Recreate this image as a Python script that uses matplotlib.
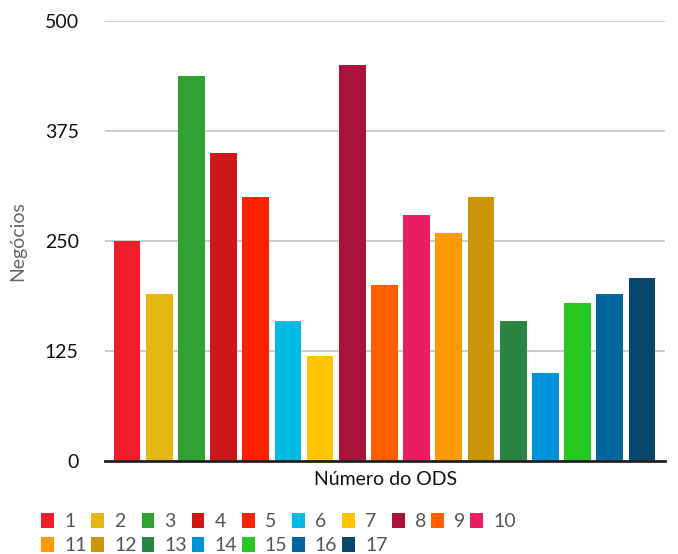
import matplotlib
matplotlib.use("Agg")
import matplotlib.pyplot as plt
from matplotlib.patches import Patch

plt.rcParams['font.family'] = ['Lato', 'DejaVu Sans']

ods = [str(i) for i in range(1, 18)]
negocios = [250, 190, 438, 350, 300, 160, 120, 450, 200, 280, 260, 300, 160, 100, 180, 190, 208]
colors = ['#F21D2B', '#E6B711', '#2EA333', '#CE1719', '#FF2000', '#00BCE3', '#FFC300',
          '#A8123B', '#FF5F00', '#EA1D63', '#FF9B00', '#CC9606', '#2A8542', '#0092DA',
          '#26C81F', '#00669D', '#08476C']
yticks = [0, 125, 250, 375, 500]

fig = plt.figure(figsize=(6.78, 5.54), dpi=100)
ax = fig.add_axes([0.155, 0.167, 0.826, 0.7946])

x = list(range(len(ods)))
bars = ax.bar(x, negocios, width=0.83, color=colors, zorder=3)

ax.set_xlim(-0.68, 16.72)
ax.set_ylim(0, 500)
ax.set_yticks(yticks)
ax.set_yticklabels([str(t) for t in yticks], fontsize=14, color='#111111')
ax.set_xticks([])
ax.tick_params(axis='y', length=0, pad=19)
ax.grid(axis='y', color='#c8c8c8', linewidth=1.3, zorder=0)
for s in ['top', 'right', 'left']:
    ax.spines[s].set_visible(False)
ax.spines['bottom'].set_color('#222222')
ax.spines['bottom'].set_linewidth(2)
ax.spines['bottom'].set_zorder(4)

ax.set_ylabel('Negócios', fontsize=14, color='#666666', labelpad=13)
ax.set_xlabel('Número do ODS', fontsize=14, color='#111111', labelpad=7)

handles = [Patch(facecolor=c, edgecolor='none') for c in colors]
order = []
for i in range(7):
    order += [i, i + 10]
order += [7, 8, 9]
fig.legend([handles[i] for i in order], [ods[i] for i in order],
           ncol=10, frameon=False, fontsize=14,
           handlelength=0.65, handleheight=0.82, handletextpad=0.52,
           columnspacing=0.25, labelspacing=0.35, labelcolor='#555555',
           loc='upper left', bbox_to_anchor=(0.061, 0.074), borderaxespad=0, borderpad=0)

fig.savefig('out.png', dpi=100)
